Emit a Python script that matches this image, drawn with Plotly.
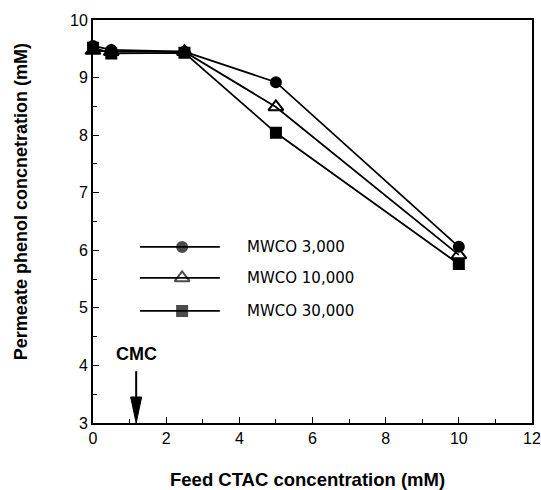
import plotly.graph_objects as go

# Feed CTAC concentration (mM)
feed_ctac = [0, 0.5, 2.5, 5, 10]

# Permeate phenol concentration (mM) for each membrane cut-off
mwco_3000 = [9.55, 9.48, 9.45, 8.92, 6.06]
mwco_10000 = [9.47, 9.45, 9.45, 8.49, 5.92]
mwco_30000 = [9.52, 9.42, 9.43, 8.04, 5.76]

series_names = ["MWCO 3,000", "MWCO 10,000", "MWCO 30,000"]
series_values = [mwco_3000, mwco_10000, mwco_30000]
series_symbols = ["circle", "triangle-up-open", "square"]
series_sizes = [10, 13, 10]

cmc_value = 1.18

x_ticks = [0, 2, 4, 6, 8, 10, 12]
y_ticks = [3, 4, 5, 6, 7, 8, 9, 10]

ink = "black"
sans = "Liberation Sans, Arial, sans-serif"
tick_font = dict(family=sans, size=16, color=ink)
legend_font = dict(family="DejaVu Sans, sans-serif", size=15, color=ink)

fig = go.Figure()

for name, vals, sym, sz in zip(series_names, series_values, series_symbols, series_sizes):
    fig.add_trace(go.Scatter(
        x=feed_ctac, y=vals, mode="lines+markers", name=name,
        line=dict(color=ink, width=1.8),
        marker=dict(symbol=sym, size=sz, color=ink, line=dict(color=ink, width=2)),
        cliponaxis=False, showlegend=False,
    ))

# Hand-drawn key: long line samples with the marker in the middle
key_rows = [0.437, 0.360, 0.278]   # paper y of each row
key_x0, key_x1, key_mid, key_text = 0.107, 0.289, 0.203, 0.346
for name, sym, sz, ky in zip(series_names, series_symbols, series_sizes, key_rows):
    fig.add_trace(go.Scatter(
        x=[key_x0, key_mid, key_x1], y=[ky, ky, ky], xaxis="x2", yaxis="y2",
        mode="lines+markers", line=dict(color=ink, width=1.8),
        marker=dict(symbol=sym, size=[0, sz, 0], color=ink, line=dict(color=ink, width=2)),
        showlegend=False, hoverinfo="skip", cliponaxis=False,
    ))
    fig.add_annotation(x=key_text, y=ky, xref="paper", yref="paper", text=name,
                       showarrow=False, xanchor="left", yanchor="middle", font=legend_font)

# CMC marker: shaft plus a long narrow filled head ending on the x axis
fig.add_shape(type="line", xref="x", yref="y", x0=cmc_value, x1=cmc_value, y0=3.4, y1=3.9,
              line=dict(color=ink, width=2))
fig.add_shape(type="path", xref="x", yref="y", xsizemode="pixel", ysizemode="pixel",
              xanchor=cmc_value, yanchor=3, path="M-5.5,26 L5.5,26 L0,0 Z",
              fillcolor=ink, line=dict(color=ink, width=1))
fig.add_annotation(x=cmc_value, y=4.2, xref="x", yref="y", text="<b>CMC</b>",
                   showarrow=False, yanchor="middle", xanchor="center",
                   font=dict(family=sans, size=18, color=ink))

# Axis titles
fig.add_annotation(x=0.489, y=-0.141, xref="paper", yref="paper",
                   text="<b>Feed CTAC concentration (mM)</b>", showarrow=False,
                   xanchor="center", yanchor="middle", font=dict(family=sans, size=18.5, color=ink))
fig.add_annotation(x=-0.164, y=0.548, xref="paper", yref="paper", textangle=-90,
                   text="<b>Permeate phenol concnetration (mM)</b>", showarrow=False,
                   xanchor="center", yanchor="middle", font=dict(family=sans, size=18, color=ink))

fig.update_layout(
    width=541, height=490,
    margin=dict(l=93, r=9, t=20, b=67, autoexpand=False),
    paper_bgcolor="white", plot_bgcolor="white",
    xaxis=dict(
        range=[0, 12], tickvals=x_ticks, ticktext=[str(v) for v in x_ticks],
        ticks="inside", ticklen=6, tickwidth=1.4, tickcolor=ink,
        minor=dict(dtick=1, ticks="inside", ticklen=4, tickwidth=1.2, tickcolor=ink),
        showline=True, linecolor=ink, linewidth=1.8, mirror=True,
        showgrid=False, zeroline=False, tickfont=tick_font,
    ),
    yaxis=dict(
        range=[3, 10], tickvals=y_ticks, ticktext=[str(v) for v in y_ticks],
        ticks="inside", ticklen=6, tickwidth=1.4, tickcolor=ink,
        minor=dict(dtick=0.5, ticks="inside", ticklen=4, tickwidth=1.2, tickcolor=ink),
        showline=True, linecolor=ink, linewidth=1.8, mirror=True,
        showgrid=False, zeroline=False, tickfont=tick_font,
    ),
    xaxis2=dict(range=[0, 1], domain=[0, 1], overlaying="x", visible=False, fixedrange=True),
    yaxis2=dict(range=[0, 1], domain=[0, 1], overlaying="y", visible=False, fixedrange=True),
    showlegend=False,
)

fig.write_html("out.html")
